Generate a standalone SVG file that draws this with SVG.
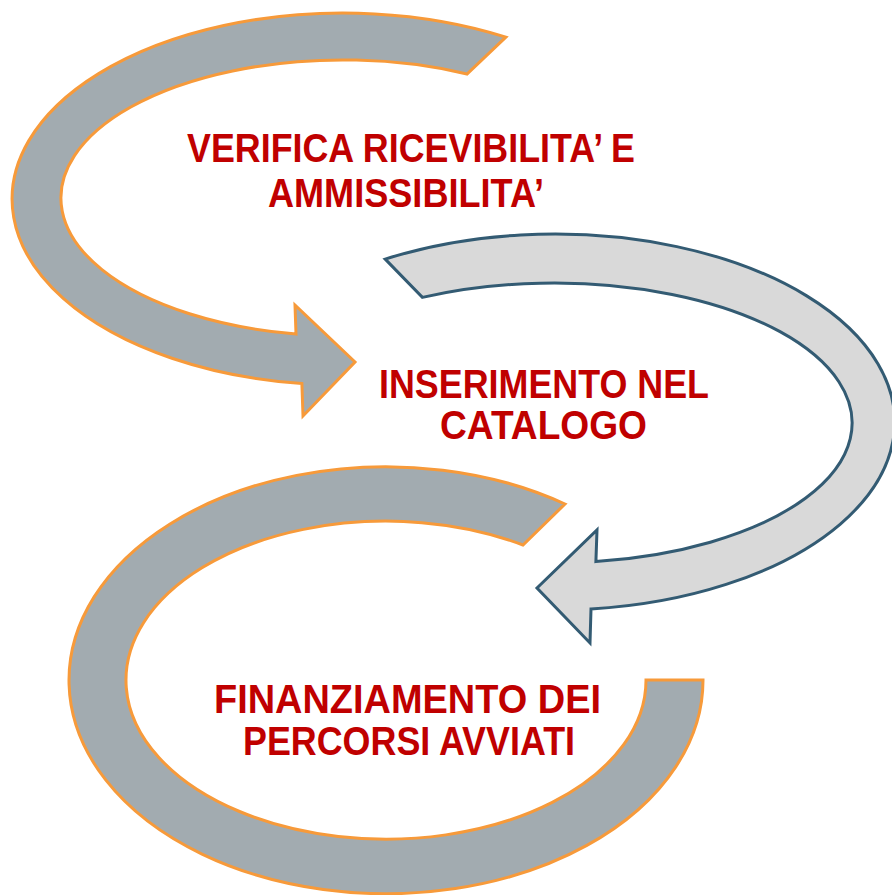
<svg xmlns="http://www.w3.org/2000/svg" width="892" height="895" viewBox="0 0 892 895">
  <style>
    .arrowA { fill: #A2ABB0; stroke: #F79A3A; stroke-width: 3; stroke-linejoin: miter; }
    .arrowB { fill: #D9D9D9; stroke: #335B73; stroke-width: 3; stroke-linejoin: miter; }
    .label { font-family: "Liberation Sans", Arial, sans-serif; font-weight: bold; font-size: 40px; fill: #C00000; }
  </style>
  <rect width="892" height="895" fill="#FFFFFF"/>
  <g id="connectors">
    <path id="arrow-top" class="arrowA" d="M 505.9,37.1 A 331 186 0 1 0 301.9,383.6 L 303,416 L 355,362 L 295,305 L 296,334 A 282 138 0 1 1 467,74 Z"/>
    <path id="arrow-middle" class="arrowB" d="M 385.2,259.1 A 340 188 0 1 1 591,609 L 590,643 L 537,588 L 597,530 L 595.9,561.6 A 298 140 0 1 0 422.4,297.4 Z"/>
    <path id="arrow-bottom" class="arrowA" d="M 565,504 A 317 213.5 0 1 0 703,680 L 646,680 A 260 159 0 1 1 523,545 Z"/>
  </g>
  <g id="node-verifica">
    <text class="label" x="187" y="162" textLength="448" lengthAdjust="spacingAndGlyphs">VERIFICA RICEVIBILITA’ E</text>
    <text class="label" x="268" y="207" textLength="276" lengthAdjust="spacingAndGlyphs">AMMISSIBILITA’</text>
  </g>
  <g id="node-inserimento">
    <text class="label" x="379" y="398" textLength="330" lengthAdjust="spacingAndGlyphs">INSERIMENTO NEL</text>
    <text class="label" x="440" y="439" textLength="207" lengthAdjust="spacingAndGlyphs">CATALOGO</text>
  </g>
  <g id="node-finanziamento">
    <text class="label" x="214" y="713" textLength="387" lengthAdjust="spacingAndGlyphs">FINANZIAMENTO DEI</text>
    <text class="label" x="243" y="755" textLength="332" lengthAdjust="spacingAndGlyphs">PERCORSI AVVIATI</text>
  </g>
</svg>
